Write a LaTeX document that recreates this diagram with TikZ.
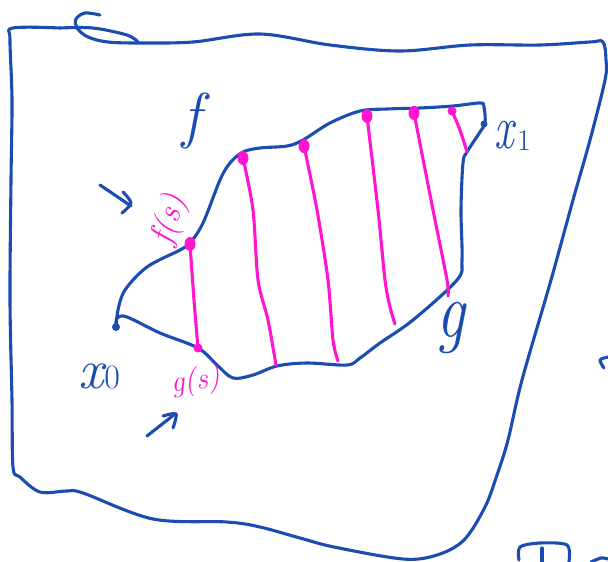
\documentclass[tikz,border=0pt]{standalone}
\usepackage{fontspec}
\definecolor{inkblue}{RGB}{26,76,178}
\definecolor{inkmag}{RGB}{255,20,210}
\tikzset{
  bluestroke/.style={draw=inkblue,line width=3.1pt,line cap=round,line join=round},
  magstroke/.style={draw=inkmag,line width=3.1pt,line cap=round,line join=round},
  mdot/.style={ellipse,fill=inkmag,inner sep=0pt,minimum width=11pt,minimum height=14pt},
  sdot/.style={circle,fill=inkmag,inner sep=0pt,minimum size=9pt},
  bdot/.style={circle,fill=inkblue,inner sep=0pt,minimum size=8pt},
  bluelabel/.style={text=inkblue,inner sep=0pt},
  maglabel/.style={text=inkmag,inner sep=0pt},
}
\usetikzlibrary{shapes.geometric}
\newcommand{\fsz}[1]{\fontsize{#1}{#1}\selectfont}
\begin{document}
\begin{tikzpicture}[x=1pt,y=-1pt]
\useasboundingbox (0,0) rectangle (608,562);
% outer region
\draw[bluestroke] plot[smooth,tension=0.55] coordinates {
 (60,28) (93,28) (127,35) (138,42)};
\draw[bluestroke] plot[smooth,tension=0.55] coordinates {
 (100,15) (85,13) (76,19) (77,28) (88,37) (108,42) (140,43) (193,42) (260,34)
 (330,45) (400,51) (470,45) (540,45) (590,42) (603,42) (606,60) (605,80)
 (590,140) (573,200) (551,280) (522,380) (508,440) (497,475) (485,507)
 (464,540) (437,555) (403,559) (334,547) (300,538) (260,527) (227,522)
 (153,519) (83,493) (67,491) (40,492) (20,477) (13,467) (12,400) (10,300)
 (11,180) (12,100) (10,40) (13,28) (60,28)};
% inner region
\coordinate (x0) at (116,327);
\draw[bluestroke] plot[smooth,tension=0.55] coordinates {
 (x0) (118,310) (125,290) (147,267) (180,250) (190,243) (203,223) (220,180)
 (230,163) (243,152) (260,148) (287,146) (303,140) (330,123) (360,111) (387,109)
 (420,108) (453,106) (480,103) (484,107) (485,123) (480,132) (467,152) (463,163)
 (461,210) (462,260) (457,280) (413,320) (380,343) (360,358) (347,365) (307,363)
 (277,366) (253,375) (233,378) (217,365) (198,348) (160,333) (127,317) (117,318) (x0)};
\node[bdot] (x0dot) at (x0) {};
\node[circle,fill=inkblue,inner sep=0pt,minimum size=7pt] (x1dot) at (484,124) {};
% magenta homotopy lines
\node[mdot] (d0) at (190,244) {};
\node[sdot] (e0) at (198,348) {};
\node[mdot] (d1) at (243,158) {};
\node[mdot] (d2) at (304,146) {};
\node[mdot] (d3) at (367,116) {};
\node[mdot] (d4) at (414,113) {};
\node[sdot] (d5) at (452,111) {};
\coordinate (e1) at (276,365);
\coordinate (e2) at (338,361);
\coordinate (e3) at (395,324);
\coordinate (e4) at (448,296);
\coordinate (e5) at (467,152);
\draw[magstroke] plot[smooth] coordinates {(d0) (194,300) (e0)};
\draw[magstroke] plot[smooth] coordinates {(d1) (253,210) (258,280) (268,320) (e1)};
\draw[magstroke] plot[smooth] coordinates {(d2) (317,210) (328,280) (333,340) (e2)};
\draw[magstroke] plot[smooth] coordinates {(d3) (378,210) (385,280) (390,307) (e3)};
\draw[magstroke] plot[smooth] coordinates {(d4) (433,210) (447,280) (e4)};
\draw[magstroke] plot[smooth] coordinates {(d5) (460,130) (e5)};
% arrows
\coordinate (a1s) at (100,185);
\coordinate (a1e) at (131,206);
\draw[bluestroke] (a1s) -- (a1e);
\draw[bluestroke] plot[smooth] coordinates {(123,192) (131,203) (122,213)};
\coordinate (a2s) at (147,436);
\coordinate (a2e) at (175,414);
\draw[bluestroke] (a2s) -- (a2e);
\draw[bluestroke] plot[smooth] coordinates {(163,416) (176,414) (173,428)};
% labels
\node[bluelabel] (lf) at (192,121) {\fsz{62}\itshape f};
\node[bluelabel,anchor=base west] (lx0) at (78,388) {\fsz{56}\itshape x\hspace{1pt}\fsz{34}\upshape 0};
\node[bluelabel,anchor=base west,xscale=0.7] (lx1) at (494,148) {\fsz{62}\itshape x};
\node[bluelabel,anchor=base west] (lx1s) at (517,150) {\fsz{30}\upshape 1};
\node[bluelabel,xscale=0.8] (lg) at (451,328) {\fsz{80}\itshape g};
\node[maglabel,rotate=72] (lfs) at (170,220) {\fsz{34}\itshape f(s)};
\node[maglabel,rotate=8] (lgs) at (196,382) {\fsz{30}\itshape g(s)};
% right-edge fragments
\draw[bluestroke] plot[smooth] coordinates {(604,368) (600,360) (608,357)};
\draw[bluestroke] plot[smooth] coordinates {(519,560) (520,547) (540,543) (567,545) (569,562)};
\draw[bluestroke] (542,548) -- (542,562);
\draw[bluestroke] plot[smooth] coordinates {(591,562) (601,558) (608,559)};
\end{tikzpicture}
\end{document}
